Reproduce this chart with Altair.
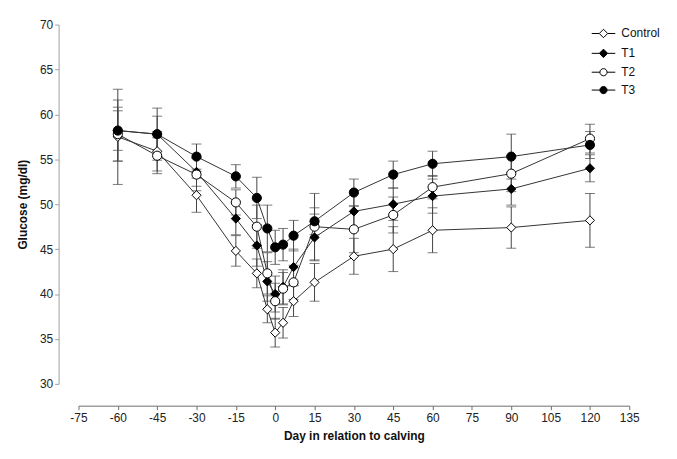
import altair as alt
import pandas as pd

days = [-60, -45, -30, -15, -7, -3, 0, 3, 7, 15, 30, 45, 60, 90, 120]
series_names = ["Control", "T1", "T2", "T3"]

control_mean = [57.5, 55.9, 51.0, 44.8, 42.3, 38.3, 35.7, 36.8, 39.2, 41.3, 44.2, 45.0, 47.1, 47.4, 48.2]
control_se = [5.3, 2.2, 1.9, 1.7, 1.6, 1.5, 1.6, 1.7, 1.7, 2.1, 2.0, 2.5, 2.5, 2.3, 3.0]
t1_mean = [58.2, 57.8, 53.6, 48.4, 45.4, 41.4, 40.0, 40.8, 43.0, 46.3, 49.2, 50.0, 50.9, 51.7, 54.0]
t1_se = [2.2, 2.0, 1.6, 1.8, 2.3, 2.2, 2.0, 1.9, 2.0, 2.6, 2.0, 1.8, 1.9, 1.8, 1.5]
t2_mean = [57.8, 55.4, 53.3, 50.2, 47.5, 42.3, 39.2, 40.6, 41.3, 47.5, 47.2, 48.8, 51.9, 53.4, 57.3]
t2_se = [3.0, 2.0, 1.8, 1.4, 2.4, 2.3, 2.0, 1.8, 1.9, 3.7, 2.6, 2.0, 1.3, 2.0, 1.6]
t3_mean = [58.2, 57.8, 55.3, 53.1, 50.7, 47.3, 45.2, 45.5, 46.5, 48.1, 51.3, 53.3, 54.5, 55.3, 56.6]
t3_se = [3.4, 2.9, 1.4, 1.3, 2.3, 2.6, 1.9, 1.8, 1.7, 1.5, 1.5, 1.5, 1.4, 2.5, 1.5]

x_ticks = list(range(-75, 136, 15))
y_ticks = list(range(30, 71, 5))

means = [control_mean, t1_mean, t2_mean, t3_mean]
ses = [control_se, t1_se, t2_se, t3_se]
rows = []
for s_i, name in enumerate(series_names):
    for d_i, d in enumerate(days):
        m = means[s_i][d_i]
        e = ses[s_i][d_i]
        rows.append({"day": d, "series": name, "order": s_i, "glucose": m, "lo": m - e, "hi": m + e})
df = pd.DataFrame(rows)

FONT = "Liberation Sans"

x_enc = alt.X("day:Q", scale=alt.Scale(domain=[-75, 135], nice=False, zero=False),
              axis=alt.Axis(values=x_ticks, tickCount=30, title="Day in relation to calving", offset=22,
                            grid=False, domainColor="#6e6e6e", tickColor="#6e6e6e", tickSize=4,
                            labelFontSize=12, labelColor="#222", labelPadding=3, labelOverlap=False,
                            labelFlush=False, labelExpr="datum.value + ''",
                            titleFontSize=12, titleFontWeight="bold", titleColor="#111", titlePadding=7,
                            labelFont=FONT, titleFont=FONT))
y_scale = alt.Scale(domain=[30, 70], nice=False, zero=False)
y_axis = alt.Axis(values=y_ticks, tickCount=20, title="Glucose (mg/dl)", offset=20, grid=False,
                  domainColor="#a0a0a0", tickColor="#a0a0a0", tickSize=4,
                  labelFontSize=12, labelColor="#222", labelPadding=2, labelOverlap=False,
                  labelFlush=False,
                  titleFontSize=12, titleFontWeight="bold", titleColor="#111", titlePadding=10,
                  labelFont=FONT, titleFont=FONT)

base = alt.Chart(df)

bars = base.mark_rule(color="#444", strokeWidth=1).encode(
    x=x_enc,
    y=alt.Y("lo:Q", scale=y_scale, axis=y_axis),
    y2="hi:Q",
    detail="series:N",
)
cap_lo = base.mark_tick(orient="horizontal", size=10, thickness=1, color="#444").encode(
    x="day:Q", y=alt.Y("lo:Q"), detail="series:N")
cap_hi = base.mark_tick(orient="horizontal", size=10, thickness=1, color="#444").encode(
    x="day:Q", y=alt.Y("hi:Q"), detail="series:N")

lines = base.mark_line(color="#333", strokeWidth=1).encode(
    x="day:Q", y="glucose:Q", detail="series:N", order="day:Q")

points = base.mark_point(stroke="black", strokeWidth=1, opacity=1, fillOpacity=1).encode(
    x="day:Q",
    y="glucose:Q",
    shape=alt.Shape("series:N", scale=alt.Scale(domain=series_names,
                    range=["diamond", "diamond", "circle", "circle"]), legend=None),
    fill=alt.Fill("series:N", scale=alt.Scale(domain=series_names,
                  range=["white", "black", "white", "black"]), legend=None),
    size=alt.Size("series:N", scale=alt.Scale(domain=series_names,
                  range=[85, 85, 60, 60]), legend=None),
    order=alt.Order("order:Q"),
)

diamond_path = "M-2.8,0L-1,0M1,0L2.8,0M-1,0L0,-1L1,0L0,1Z"
circle_path = "M-2.8,0L-0.85,0M0.85,0L2.8,0M0.85,0A0.85,0.85,0,1,1,-0.85,0A0.85,0.85,0,1,1,0.85,0Z"


def make_legend():
    return alt.Legend(title=None, orient="none", legendX=523, legendY=3,
                      symbolSize=72, symbolStrokeWidth=1, symbolStrokeColor="black",
                      symbolOpacity=1, labelFontSize=12, labelFont=FONT, labelColor="#111",
                      labelOffset=12, rowPadding=6, padding=0, labelLimit=200)


legend_layer = base.transform_filter("false").mark_point(
    strokeWidth=1, opacity=1, fillOpacity=1).encode(
    x="day:Q",
    y="glucose:Q",
    shape=alt.Shape("series:N", scale=alt.Scale(domain=series_names,
                    range=[diamond_path, diamond_path, circle_path, circle_path]),
                    legend=make_legend()),
    fill=alt.Fill("series:N", scale=alt.Scale(domain=series_names,
                  range=["white", "black", "white", "black"]),
                  legend=make_legend()),
    stroke=alt.Stroke("series:N", scale=alt.Scale(domain=series_names,
                      range=["black", "black", "black", "black"]),
                      legend=make_legend()),
)

chart = alt.layer(bars, cap_lo, cap_hi, lines, points, legend_layer).resolve_scale(
    shape="independent", fill="independent", size="independent", stroke="independent"
).resolve_legend(
    shape="independent", fill="independent", stroke="independent"
).properties(
    width=555, height=362,
    autosize=alt.AutoSizeParams(type="none"),
    padding={"left": 71, "top": 15, "right": 40, "bottom": 70},
    background="white",
).configure(font=FONT).configure_view(strokeWidth=0, stroke=None).configure_axisX(
    labelOverlap=False, labelFlush=False)

chart.save("out.html", embed_options={"renderer": "svg", "actions": False})
